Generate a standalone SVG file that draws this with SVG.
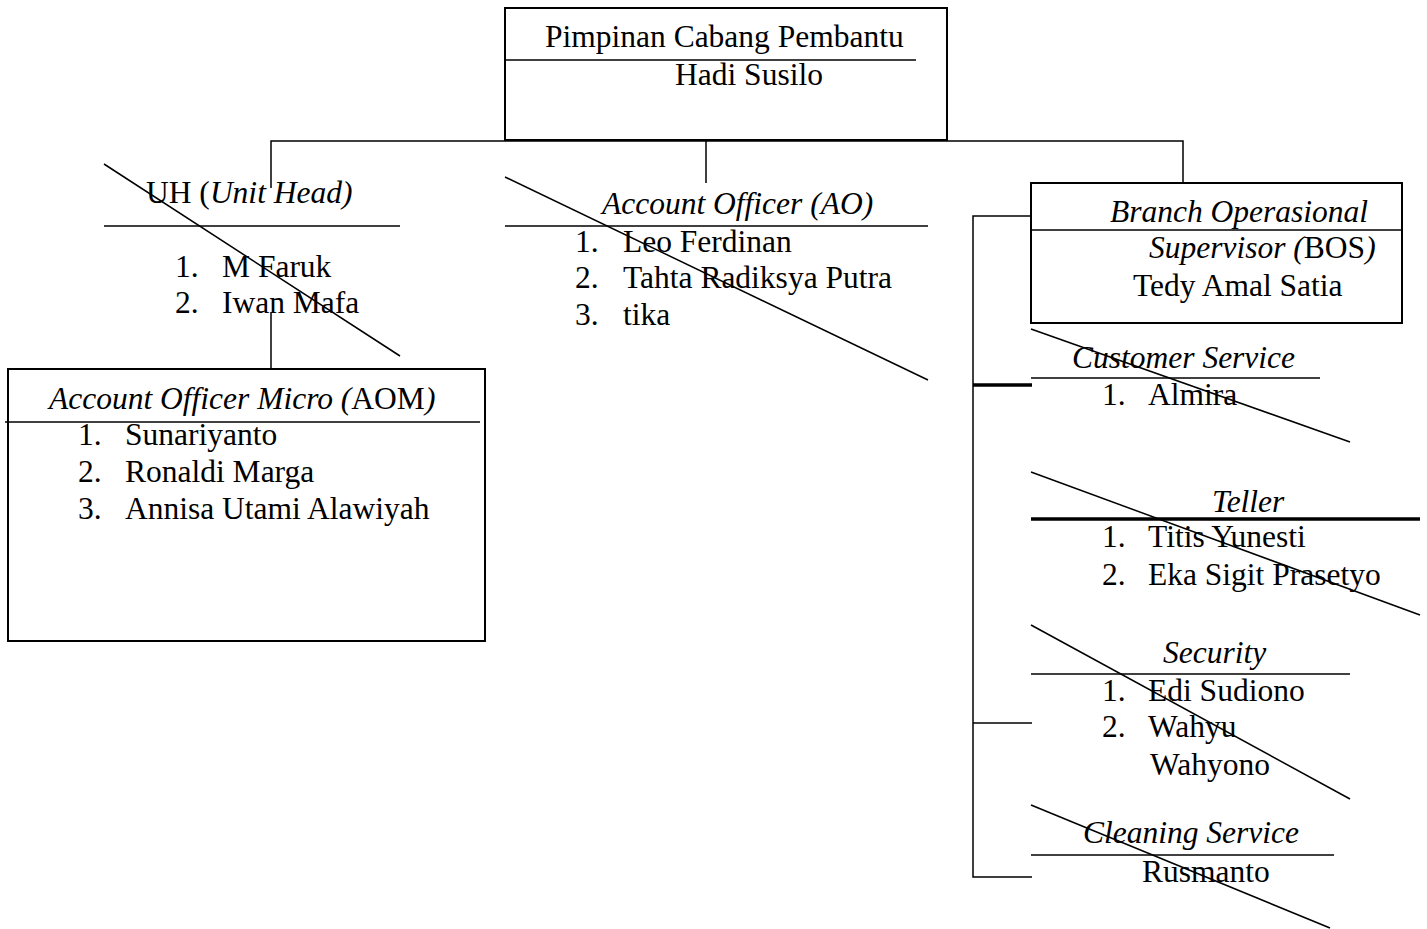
<svg xmlns="http://www.w3.org/2000/svg" width="1427" height="929" viewBox="0 0 1427 929">
<style>
text{font-family:"Liberation Serif","Times New Roman",serif;font-size:31.5px;fill:#000}
.i{font-style:italic}
.box{fill:#fff;stroke:#000;stroke-width:2}
.ln{stroke:#000;stroke-width:1.5;fill:none}
.thick{stroke:#000;stroke-width:3.5;fill:none}
</style>
<rect width="1427" height="929" fill="#fff"/>
<g id="connectors">
<polyline class="ln" points="271,188 271,141 1183,141 1183,183"/>
<line class="ln" x1="706" y1="141" x2="706" y2="183"/>
<line class="ln" x1="271" y1="313" x2="271" y2="369"/>
<polyline class="ln" points="1031,216 973,216 973,877 1032,877"/>
<line class="thick" x1="973" y1="385" x2="1032" y2="385"/>
<line class="ln" x1="973" y1="723" x2="1032" y2="723"/>
</g>
<g id="pimpinan">
<rect class="box" x="505" y="8" width="442" height="132"/>
<line class="ln" x1="505" y1="60" x2="916" y2="60"/>
<text x="545" y="47">Pimpinan Cabang Pembantu</text>
<text x="675" y="85">Hadi Susilo</text>
</g>
<g id="unit-head">
<text x="146" y="203">UH (<tspan class="i">Unit Head)</tspan></text>
<line class="ln" x1="104" y1="226" x2="400" y2="226"/>
<text x="175" y="277">1.</text><text x="222" y="277">M Faruk</text>
<text x="175" y="313">2.</text><text x="222" y="313">Iwan Mafa</text>
<line class="ln" x1="104" y1="164" x2="400" y2="356"/>
</g>
<g id="aom">
<rect class="box" x="8" y="369" width="477" height="272"/>
<line class="ln" x1="5" y1="422" x2="480" y2="422"/>
<text x="49" y="409"><tspan class="i">Account Officer Micro (</tspan>AOM<tspan class="i">)</tspan></text>
<text x="78" y="445">1.</text><text x="125" y="445">Sunariyanto</text>
<text x="78" y="482">2.</text><text x="125" y="482">Ronaldi Marga</text>
<text x="78" y="519">3.</text><text x="125" y="519">Annisa Utami Alawiyah</text>
</g>
<g id="account-officer">
<text class="i" x="602" y="214">Account Officer (AO)</text>
<line class="ln" x1="505" y1="226" x2="928" y2="226"/>
<text x="575" y="252">1.</text><text x="623" y="252">Leo Ferdinan</text>
<text x="575" y="288">2.</text><text x="623" y="288">Tahta Radiksya Putra</text>
<text x="575" y="325">3.</text><text x="623" y="325">tika</text>
<line class="ln" x1="505" y1="177" x2="928" y2="380"/>
</g>
<g id="bos">
<rect class="box" x="1031" y="183" width="371" height="140"/>
<line class="ln" x1="1031" y1="230" x2="1402" y2="230"/>
<text class="i" x="1110" y="222">Branch Operasional</text>
<text x="1149" y="258"><tspan class="i">Supervisor (</tspan>BOS<tspan class="i">)</tspan></text>
<text x="1133" y="296">Tedy Amal Satia</text>
</g>
<g id="customer-service">
<text class="i" x="1072" y="368">Customer Service</text>
<line class="ln" x1="1031" y1="378" x2="1320" y2="378"/>
<text x="1102" y="405">1.</text><text x="1148" y="405">Almira</text>
<line class="ln" x1="1031" y1="329" x2="1350" y2="442"/>
</g>
<g id="teller">
<text class="i" x="1212" y="512">Teller</text>
<line class="thick" x1="1031" y1="519" x2="1420" y2="519"/>
<text x="1102" y="547">1.</text><text x="1148" y="547">Titis Yunesti</text>
<text x="1102" y="585">2.</text><text x="1148" y="585">Eka Sigit Prasetyo</text>
<line class="ln" x1="1031" y1="472" x2="1420" y2="615"/>
</g>
<g id="security">
<text class="i" x="1163" y="663">Security</text>
<line class="ln" x1="1031" y1="674" x2="1350" y2="674"/>
<text x="1102" y="701">1.</text><text x="1148" y="701">Edi Sudiono</text>
<text x="1102" y="737">2.</text><text x="1148" y="737">Wahyu</text>
<text x="1150" y="775">Wahyono</text>
<line class="ln" x1="1031" y1="625" x2="1350" y2="799"/>
</g>
<g id="cleaning-service">
<text class="i" x="1083" y="843">Cleaning Service</text>
<line class="ln" x1="1031" y1="855" x2="1334" y2="855"/>
<text x="1142" y="882">Rusmanto</text>
<line class="ln" x1="1031" y1="805" x2="1330" y2="928"/>
</g>
</svg>
